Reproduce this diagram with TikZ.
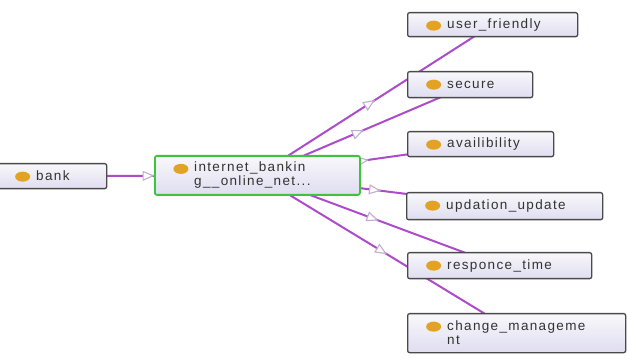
\documentclass[tikz,border=0pt]{standalone}
\usepackage{fontspec}
\newfontfamily\boxfont{Liberation Sans}[LetterSpace=10]
\usetikzlibrary{arrows.meta,decorations.markings,backgrounds}

\definecolor{edgecol}{HTML}{AD4CC8}
\definecolor{tricol}{HTML}{C4ABD4}
\definecolor{boxline}{HTML}{4A4A4A}
\definecolor{boxtop}{HTML}{F8F8FB}
\definecolor{boxbot}{HTML}{DFDDF0}
\definecolor{focusline}{HTML}{3CC43C}
\definecolor{iconcol}{HTML}{E2A325}
\definecolor{txtcol}{HTML}{333333}

\begin{document}
\begin{tikzpicture}[x=1pt,y=-1pt,
  cls/.style={draw=boxline, line width=1.3pt, rounded corners=2pt,
    top color=boxtop, bottom color=boxbot, anchor=north west,
    inner sep=0pt,
    path picture={\fill[iconcol]
      ([xshift=26pt,yshift=-13pt]path picture bounding box.north west)
      ellipse [x radius=7.5pt, y radius=5pt];}},
  focus/.style={cls, draw=focusline, line width=1.8pt},
  txt/.style={anchor=west, xshift=40pt, align=left, text=txtcol,
    font=\boxfont\fontsize{13.5}{14}\selectfont, inner sep=0pt},
  isa/.style={draw=edgecol, line width=2pt, postaction={decorate},
    decoration={markings, mark=at position 0.5 with
      {\arrow{Triangle[open, length=12pt, width=10pt, line width=1.1pt,
        color=tricol, fill=white]}}}}]

\useasboundingbox (0,0) rectangle (627,358);

% class boxes
\node[cls, minimum width=110pt, minimum height=25pt,
  label={[txt]west:bank}] (bank) at (-4,163) {};
\node[focus, minimum width=205pt, minimum height=39pt,
  label={[txt]west:internet\_bankin\\g\_\_online\_net...}] (ib) at (154,155) {};
\node[cls, minimum width=170pt, minimum height=24pt,
  label={[txt]west:user\_friendly}] (uf) at (407,12) {};
\node[cls, minimum width=125pt, minimum height=26pt,
  label={[txt]west:secure}] (sec) at (407,71) {};
\node[cls, minimum width=146pt, minimum height=25pt,
  label={[txt]west:availibility}] (av) at (407,131) {};
\node[cls, minimum width=196pt, minimum height=27pt,
  label={[txt]west:updation\_update}] (upd) at (406,192) {};
\node[cls, minimum width=184pt, minimum height=26pt,
  label={[txt]west:responce\_time}] (resp) at (407,252) {};
\node[cls, minimum width=218pt, minimum height=39pt,
  label={[txt]west:change\_manageme\\nt}] (cm) at (407,313) {};

% white canvas and is-a connectors, drawn behind the boxes
\begin{scope}[on background layer]
  \fill[white] (0,0) rectangle (627,358);
  \draw[isa] (bank.center) -- (ib.center);
  \draw[isa] (ib.center) -- (uf.center);
  \draw[isa] (ib.center) -- (sec.center);
  \draw[isa] (ib.center) -- (av.center);
  \draw[isa] (ib.center) -- (upd.center);
  \draw[isa] (ib.center) -- (resp.center);
  \draw[isa] (ib.center) -- (cm.center);
\end{scope}
\end{tikzpicture}
\end{document}
